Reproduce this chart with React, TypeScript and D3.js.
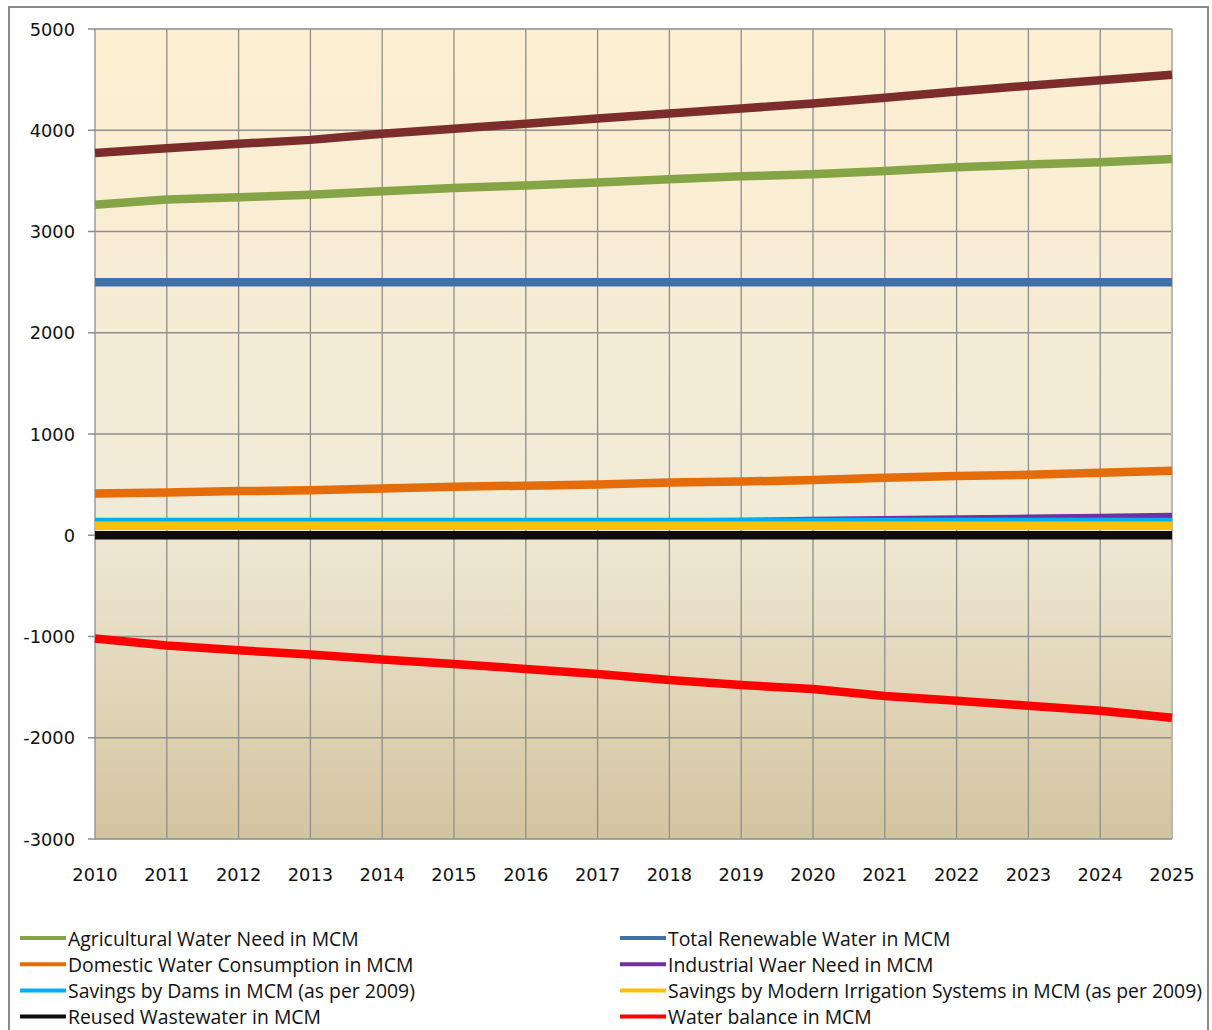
import React from 'react';
import * as d3 from 'd3';

const years = [2010, 2011, 2012, 2013, 2014, 2015, 2016, 2017, 2018, 2019, 2020, 2021, 2022, 2023, 2024, 2025];

// values in MCM
const totalNeed = [3775, 3822, 3866, 3905, 3965, 4015, 4065, 4115, 4165, 4215, 4265, 4320, 4382, 4440, 4493, 4548];
const agricultural = [3265, 3315, 3338, 3364, 3397, 3430, 3455, 3485, 3515, 3545, 3565, 3598, 3635, 3661, 3684, 3716];
const renewable = [2500, 2500, 2500, 2500, 2500, 2500, 2500, 2500, 2500, 2500, 2500, 2500, 2500, 2500, 2500, 2500];
const domestic = [412, 422, 436, 445, 461, 480, 490, 502, 520, 530, 545, 567, 584, 597, 617, 637];
const industrial = [100, 103, 106, 109, 112, 115, 118, 121, 125, 130, 140, 148, 155, 162, 170, 180];
const dams = [130, 130, 130, 130, 130, 130, 130, 130, 130, 130, 130, 130, 130, 130, 130, 130];
const irrigation = [94, 94, 94, 94, 94, 94, 94, 94, 94, 94, 94, 94, 94, 94, 94, 94];
const reused = [0, 0, 0, 0, 0, 0, 0, 0, 0, 0, 0, 0, 0, 0, 0, 0];
const balance = [-1020, -1089, -1136, -1178, -1228, -1272, -1320, -1370, -1430, -1480, -1519, -1588, -1634, -1683, -1733, -1802];

const yTicks = [5000, 4000, 3000, 2000, 1000, 0, -1000, -2000, -3000];

interface Series {
  name: string;
  values: number[];
  color: string;
  legend: boolean;
}

// drawing order; legend order follows Excel's row-wise layout
const series: Series[] = [
  { name: 'Total Water Need in MCM', values: totalNeed, color: '#7b2c2b', legend: false },
  { name: 'Agricultural Water Need in MCM', values: agricultural, color: '#84a445', legend: true },
  { name: 'Total Renewable Water in MCM', values: renewable, color: '#4470a8', legend: true },
  { name: 'Domestic Water Consumption in MCM', values: domestic, color: '#e46c0a', legend: true },
  { name: 'Industrial Waer Need in MCM', values: industrial, color: '#7030a0', legend: true },
  { name: 'Savings by Dams in MCM (as per 2009)', values: dams, color: '#00b0f0', legend: true },
  { name: 'Savings by Modern Irrigation Systems in MCM (as per 2009)', values: irrigation, color: '#ffc000', legend: true },
  { name: 'Reused Wastewater in MCM', values: reused, color: '#0d0d0d', legend: true },
  { name: 'Water balance in MCM', values: balance, color: '#ff0000', legend: true },
];

const W = 1212;
const H = 1030;
const plot = { left: 95, right: 1172, top: 29, bottom: 839 };

export default function App() {
  const x = d3.scaleLinear().domain([2010, 2025]).range([plot.left, plot.right]);
  const y = d3.scaleLinear().domain([-3000, 5000]).range([plot.bottom, plot.top]);
  const line = d3.line<number>().x((_, i) => x(years[i])).y(d => y(d));

  const legendItems = series.filter(s => s.legend);
  const tickFont = '"DejaVu Sans", Verdana, sans-serif';
  const legendFont = '"Open Sans", "Noto Sans", sans-serif';

  return (
    <svg width={W} height={H} style={{ position: 'absolute', left: 0, top: 0, display: 'block' }}>
      <defs>
        <linearGradient id="plotBg" x1="0" y1="0" x2="0" y2="1">
          <stop offset="0%" stopColor="#fdefd2" />
          <stop offset="60%" stopColor="#f1ead6" />
          <stop offset="100%" stopColor="#d3c4a0" />
        </linearGradient>
      </defs>
      <rect x={0} y={0} width={W} height={H} fill="#fff" />
      {/* outer chart border */}
      <path d={`M9,${H + 5} V7 H1208 V${H + 5}`} fill="none" stroke="#8a8a8a" strokeWidth={2} />

      <rect x={plot.left} y={plot.top} width={plot.right - plot.left} height={plot.bottom - plot.top} fill="url(#plotBg)" />

      {/* grid */}
      {years.map(yr => (
        <line key={yr} x1={x(yr)} x2={x(yr)} y1={plot.top} y2={plot.bottom} stroke="#8e8e8e" strokeWidth={1.3} />
      ))}
      {yTicks.map(t => (
        <line key={t} x1={plot.left - 7} x2={plot.right} y1={y(t)} y2={y(t)} stroke="#8e8e8e" strokeWidth={1.3} />
      ))}
      <line x1={plot.right} x2={plot.right} y1={plot.top} y2={plot.bottom} stroke="#b8b8b8" strokeWidth={2} />
      <line x1={plot.left} x2={plot.right} y1={plot.bottom} y2={plot.bottom} stroke="#a0a0a0" strokeWidth={1.5} />

      {/* tick labels */}
      {yTicks.map(t => (
        <text key={t} x={75} y={y(t)} textAnchor="end" dominantBaseline="central" fontFamily={tickFont} fontSize={17.8} fill="#111">
          {t}
        </text>
      ))}
      {years.map(yr => (
        <text key={yr} x={x(yr)} y={881} textAnchor="middle" fontFamily={tickFont} fontSize={17.8} fill="#111">
          {yr}
        </text>
      ))}

      {/* series */}
      {series.map(s => (
        <path key={s.name} d={line(s.values) || ''} fill="none" stroke={s.color} strokeWidth={8.5} strokeLinejoin="round" />
      ))}

      {/* legend */}
      {legendItems.map((s, i) => {
        const col = i % 2;
        const row = Math.floor(i / 2);
        const lx = col === 0 ? 20 : 620;
        const ly = 938 + row * 26.2;
        return (
          <g key={s.name}>
            <line x1={lx} x2={lx + 46} y1={ly} y2={ly} stroke={s.color} strokeWidth={4} />
            <text x={lx + 48} y={ly} dominantBaseline="central" fontFamily={legendFont} fontSize={19.4} fill="#111">
              {s.name}
            </text>
          </g>
        );
      })}
    </svg>
  );
}
